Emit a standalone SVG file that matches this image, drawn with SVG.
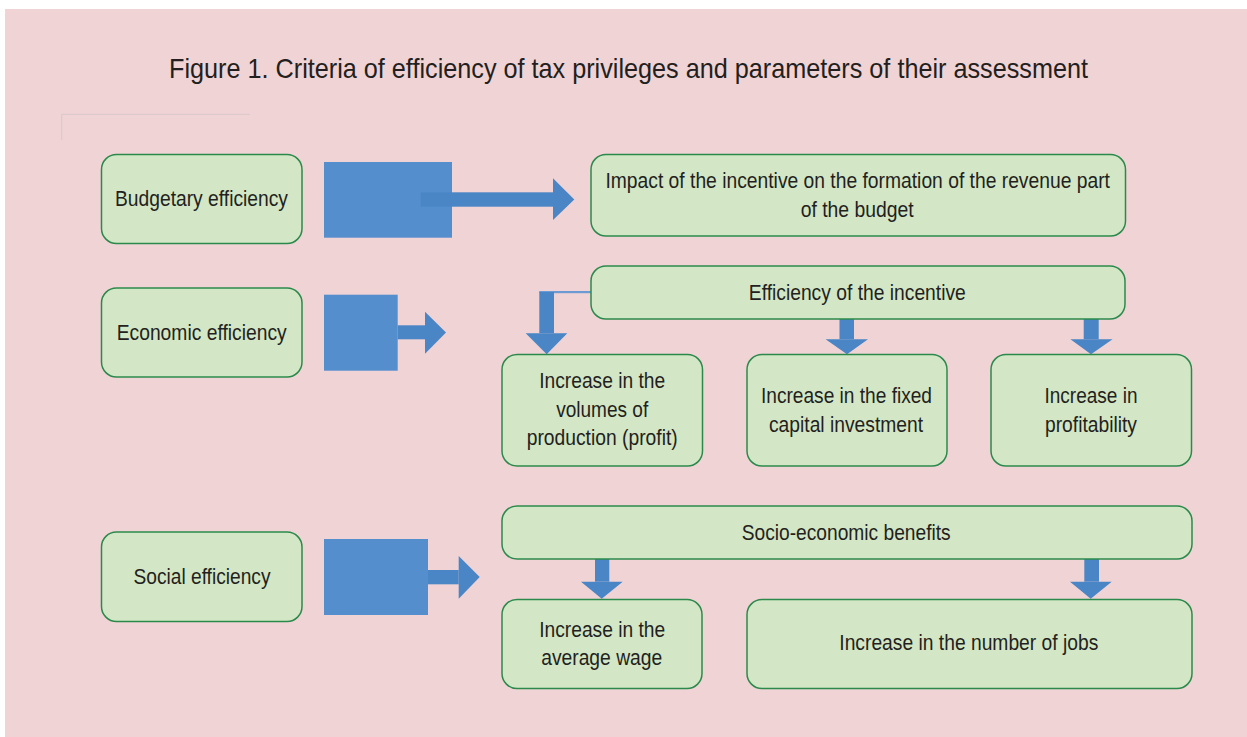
<svg xmlns="http://www.w3.org/2000/svg" width="1247" height="737" viewBox="0 0 1247 737">
<style>
.box{fill:#d3e7c6;stroke:#2b8a4b;stroke-width:1.5}
.t{font-family:"Liberation Sans",Arial,sans-serif;font-size:22.5px;fill:#231f20;text-anchor:middle}
.title{font-family:"Liberation Sans",Arial,sans-serif;font-size:28.5px;fill:#231f20;text-anchor:middle}
.blk{fill:#558ecd}
.arr{fill:#4a86c6}
</style>
<rect x="0" y="0" width="1247" height="737" fill="#ffffff"/>
<rect x="5" y="9" width="1242" height="728" fill="#f0d3d4"/>
<path d="M61.7 140 V114.3 H250" fill="none" stroke="#d9c9ca" stroke-width="1"/>
<text class="title" x="628.5" y="77.5" textLength="919" lengthAdjust="spacingAndGlyphs">Figure 1. Criteria of efficiency of tax privileges and parameters of their assessment</text>
<g id="connectors">
<rect class="blk" x="324" y="162" width="128" height="75.7"/>
<rect class="arr" x="420.7" y="192.3" width="132.3" height="14.4"/>
<polygon class="arr" points="553,178.3 574.3,199.5 553,220"/>
<rect class="blk" x="324" y="294.7" width="73.7" height="76"/>
<rect class="arr" x="397.7" y="325.3" width="27.3" height="14"/>
<polygon class="arr" points="425,311.7 446,332.5 425,353.7"/>
<rect class="blk" x="324" y="539" width="104" height="76"/>
<rect class="arr" x="428" y="570" width="30.7" height="14.3"/>
<polygon class="arr" points="458.7,556 479.7,577 458.7,598.7"/>
<rect x="539.3" y="291" width="52" height="2.2" fill="#6b9bd2"/>
<rect class="arr" x="539.3" y="292" width="14.7" height="41.3"/>
<polygon class="arr" points="525.7,333.3 567.3,333.3 546.7,354.3"/>
<rect class="arr" x="839.5" y="319" width="14.5" height="20.3"/>
<polygon class="arr" points="825.6,339.3 868,339.3 847,354.3"/>
<rect class="arr" x="1083.7" y="319" width="15" height="20.3"/>
<polygon class="arr" points="1070.4,339.3 1112.6,339.3 1091,354.3"/>
<rect class="arr" x="595" y="559" width="14.3" height="22.7"/>
<polygon class="arr" points="581,581.7 622.7,581.7 601.7,598.7"/>
<rect class="arr" x="1084.3" y="559" width="14.7" height="22.7"/>
<polygon class="arr" points="1070,581.7 1111.7,581.7 1090.7,598.7"/>
</g>
<g id="budgetary">
<rect class="box" x="101.5" y="154.5" width="200.5" height="89" rx="15"/>
<text class="t" x="201.5" y="205.7" textLength="173" lengthAdjust="spacingAndGlyphs">Budgetary efficiency</text>
</g>
<g id="economic">
<rect class="box" x="101.5" y="288" width="200.5" height="89" rx="15"/>
<text class="t" x="201.7" y="340" textLength="170" lengthAdjust="spacingAndGlyphs">Economic efficiency</text>
</g>
<g id="social">
<rect class="box" x="101.5" y="532" width="200.5" height="89.5" rx="15"/>
<text class="t" x="202" y="584" textLength="137" lengthAdjust="spacingAndGlyphs">Social efficiency</text>
</g>
<g id="impact">
<rect class="box" x="591" y="154.5" width="534.5" height="81.5" rx="15"/>
<text class="t" x="857.7" y="188.3" textLength="504.5" lengthAdjust="spacingAndGlyphs">Impact of the incentive on the formation of the revenue part</text>
<text class="t" x="857.2" y="216.7" textLength="113" lengthAdjust="spacingAndGlyphs">of the budget</text>
</g>
<g id="efficiency">
<rect class="box" x="591" y="266" width="534" height="53" rx="15"/>
<text class="t" x="857.3" y="300" textLength="217" lengthAdjust="spacingAndGlyphs">Efficiency of the incentive</text>
</g>
<g id="volumes">
<rect class="box" x="502" y="354.5" width="200.5" height="111.5" rx="15"/>
<text class="t" x="602.2" y="388.3" textLength="126" lengthAdjust="spacingAndGlyphs">Increase in the</text>
<text class="t" x="602.2" y="416.7" textLength="92" lengthAdjust="spacingAndGlyphs">volumes of</text>
<text class="t" x="602.2" y="445" textLength="151" lengthAdjust="spacingAndGlyphs">production (profit)</text>
</g>
<g id="fixed">
<rect class="box" x="747" y="354.5" width="200" height="111.5" rx="15"/>
<text class="t" x="846.5" y="402.7" textLength="171" lengthAdjust="spacingAndGlyphs">Increase in the fixed</text>
<text class="t" x="846" y="431.7" textLength="154" lengthAdjust="spacingAndGlyphs">capital investment</text>
</g>
<g id="profitability">
<rect class="box" x="991" y="354.5" width="200.5" height="111.5" rx="15"/>
<text class="t" x="1091" y="402.7" textLength="93" lengthAdjust="spacingAndGlyphs">Increase in</text>
<text class="t" x="1091" y="431.7" textLength="92" lengthAdjust="spacingAndGlyphs">profitability</text>
</g>
<g id="socio">
<rect class="box" x="502" y="506" width="690" height="53" rx="15"/>
<text class="t" x="846.2" y="540" textLength="209" lengthAdjust="spacingAndGlyphs">Socio-economic benefits</text>
</g>
<g id="wage">
<rect class="box" x="502" y="599.5" width="200" height="89" rx="15"/>
<text class="t" x="602.2" y="636.7" textLength="126" lengthAdjust="spacingAndGlyphs">Increase in the</text>
<text class="t" x="601.7" y="665" textLength="121" lengthAdjust="spacingAndGlyphs">average wage</text>
</g>
<g id="jobs">
<rect class="box" x="747" y="599.5" width="445" height="89" rx="15"/>
<text class="t" x="968.8" y="650" textLength="259" lengthAdjust="spacingAndGlyphs">Increase in the number of jobs</text>
</g>
</svg>
